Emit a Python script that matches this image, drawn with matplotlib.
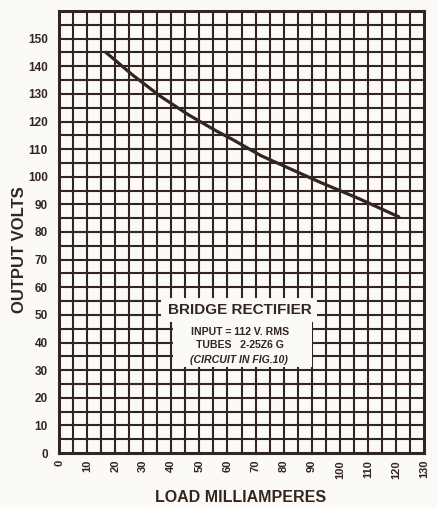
import numpy as np
import matplotlib.pyplot as plt
from matplotlib.patches import Rectangle

# values
load_ma = [16.4, 26.0, 36.0, 46.0, 56.0, 61.6, 72.0, 93.0, 107.0, 121.4]
out_volts = [145.3, 137.0, 129.2, 122.5, 116.6, 113.6, 107.6, 98.0, 92.0, 85.3]

x_ticks = list(range(0, 140, 10))
y_ticks = list(range(0, 160, 10))

note_title = "BRIDGE RECTIFIER"
note_lines = ["INPUT = 112 V. RMS", "TUBES   2-25Z6 G", "(CIRCUIT IN FIG.10)"]

ink = "#33251f"
paper = "#fbfaf6"
plt.rcParams['font.family'] = ['Liberation Sans', 'DejaVu Sans']

fig = plt.figure(figsize=(4.37, 5.08), dpi=100, facecolor=paper)
ax = fig.add_axes([59/437, 55/508, 365/437, 442/508])
ax.set_facecolor(paper)

ax.set_xlim(0, 130)
ax.set_ylim(0, 160)

# graph paper grid, every 5 units
for v in np.arange(5, 130, 5):
    ax.axvline(v, color=ink, lw=1.5, zorder=1)
for v in np.arange(5, 160, 5):
    ax.axhline(v, color=ink, lw=1.5, zorder=1)

ax.plot(load_ma, out_volts, color=ink, lw=2.3, solid_capstyle='butt', solid_joinstyle='round', zorder=3)

for s in ax.spines.values():
    s.set_color(ink)
    s.set_linewidth(2.2)

ax.set_xticks(x_ticks)
ax.set_xticklabels([str(t) for t in x_ticks], rotation=90, fontsize=8, fontweight='bold', color=ink)
ax.set_yticks(y_ticks)
ax.set_yticklabels([str(t) for t in y_ticks], fontsize=8.5, fontweight='bold', color=ink)
ax.tick_params(axis='both', length=0)
ax.tick_params(axis='x', pad=5)
ax.tick_params(axis='y', pad=8)

# white patches over the grid for the note
ax.add_patch(Rectangle((36.5, 47.5), 55.5, 8.5, facecolor=paper, edgecolor='none', zorder=2))
ax.add_patch(Rectangle((40.5, 31.0), 49.5, 17.0, facecolor=paper, edgecolor='none', zorder=2))

ax.text(64.5, 51.7, note_title, ha='center', va='center', fontsize=11, fontweight='bold', color=ink, zorder=4)
ax.text(64.5, 43.8, note_lines[0], ha='center', va='center', fontsize=7.6, fontweight='bold', color=ink, zorder=4)
ax.text(64.5, 39.1, note_lines[1], ha='center', va='center', fontsize=7.6, fontweight='bold', color=ink, zorder=4)
ax.text(64.0, 33.8, note_lines[2], ha='center', va='center', fontsize=7.6, fontweight='bold', style='italic', color=ink, zorder=4)

fig.text(20/437, 1 - 250/508, "OUTPUT VOLTS", rotation=90, ha='center', va='center', fontsize=12, fontweight='bold', color=ink)
fig.text(241/437, 1 - 497/508, "LOAD MILLIAMPERES", ha='center', va='center', fontsize=11.5, fontweight='bold', color=ink)

fig.savefig("out.png", dpi=100, facecolor=paper)
